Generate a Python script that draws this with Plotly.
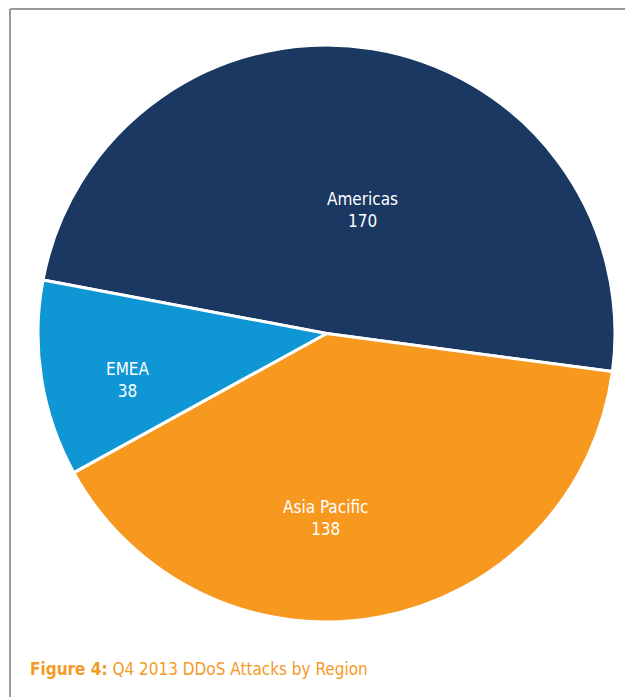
import plotly.graph_objects as go

# data
regions = ['Americas', 'Asia Pacific', 'EMEA']
attacks = [170, 138, 38]
colors = ['#1a3862', '#f7981f', '#0e97d4']
# label centres in the reference (px)
label_xy = [(362, 210), (325, 518), (128, 380)]

W, H = 633, 697
OFF = 8  # page body margin
FONT = 'DejaVu Sans Condensed, Liberation Sans Narrow, sans-serif'


def px(x):
    return (x - OFF) / W


def py(y):
    return (H - (y - OFF)) / H


fig = go.Figure()
fig.add_trace(go.Pie(
    labels=regions, values=attacks, sort=False, direction='clockwise',
    rotation=-79.3, textinfo='none',
    marker=dict(colors=colors, line=dict(color='white', width=3)),
    domain=dict(x=[px(37), px(616)], y=[py(622), py(45)]),
    showlegend=False, hoverinfo='label+value+percent',
))

for r, v, (x, y) in zip(regions, attacks, label_xy):
    fig.add_annotation(text=f'{r}<br>{v}', x=px(x), y=py(y), xref='paper', yref='paper',
                       xanchor='center', yanchor='middle', showarrow=False,
                       font=dict(color='white', size=17, family=FONT))

# frame lines (top and left)
fig.add_shape(type='line', xref='paper', yref='paper', x0=px(10), x1=1, y0=py(9), y1=py(9),
              line=dict(color='#9a9a9a', width=2))
fig.add_shape(type='line', xref='paper', yref='paper', x0=px(10), x1=px(10), y0=0, y1=py(9),
              line=dict(color='#9a9a9a', width=2))

fig.add_annotation(text='<b>Figure 4:</b> Q4 2013 DDoS Attacks by Region', xref='paper', yref='paper',
                   x=px(28), y=py(669), xanchor='left', yanchor='middle', showarrow=False,
                   font=dict(color='#f59a26', size=17, family=FONT))

fig.update_layout(width=W, height=H, margin=dict(l=0, r=0, t=0, b=0),
                  paper_bgcolor='white', plot_bgcolor='white')
fig.write_html('out.html')
